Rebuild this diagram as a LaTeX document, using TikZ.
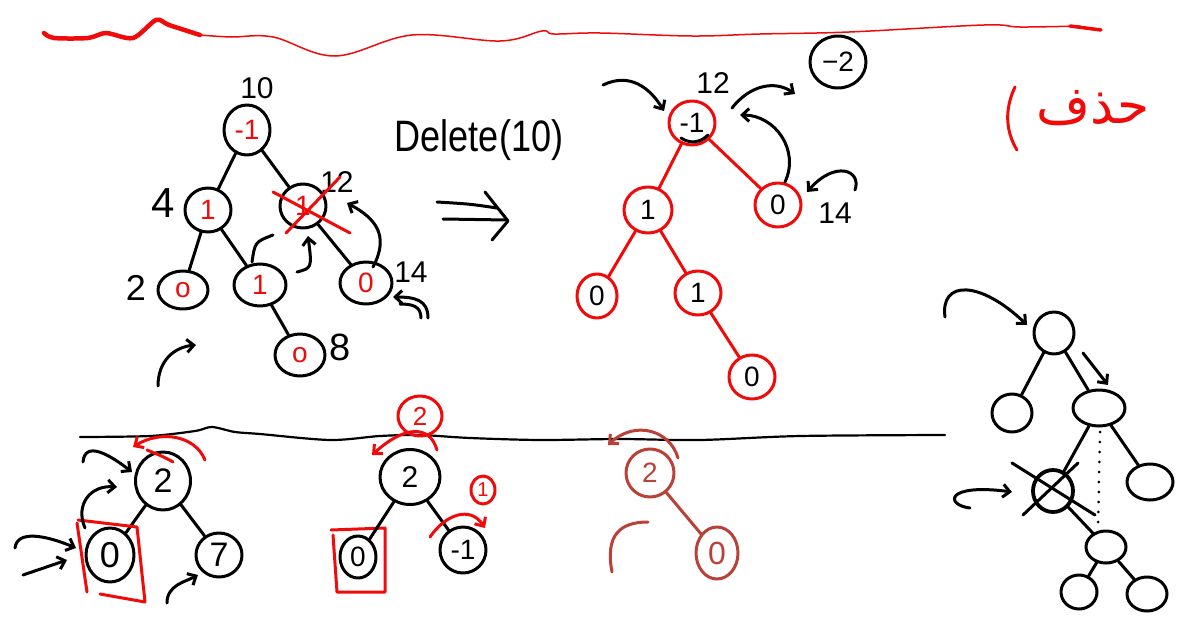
\documentclass[tikz,border=0pt]{standalone}
\usepackage{fontspec}
\setmainfont{Liberation Sans}
\newfontfamily\arabicfont[Script=Arabic]{DejaVu Sans}
\TeXXeTstate=1
\usetikzlibrary{shapes.geometric,arrows.meta}
\definecolor{rd}{RGB}{240,10,10}
\definecolor{brn}{RGB}{185,65,55}
\begin{document}
\begin{tikzpicture}[x=1pt,y=-1pt,line cap=round,line join=round,line width=3pt,
  nd/.style={draw,ellipse,inner sep=0pt,minimum width=46pt,minimum height=44pt,font=\fontsize{28}{28}\selectfont},
  rn/.style={nd,draw=rd},
  en/.style={draw,ellipse,inner sep=0pt,minimum width=40pt,minimum height=42pt},
  lbl/.style={inner sep=0pt,font=\fontsize{30}{30}\selectfont},
  arr/.style={-{Straight Barb[length=7pt,width=13pt]}},
  rc/.style={draw=rd,text=rd,ellipse,inner sep=0pt}]
\fill[white] (0,0) rectangle (1189,629);
\useasboundingbox (0,0) rectangle (1189,629);

% top red wave
\draw[rd,line width=4.5pt] plot[smooth] coordinates {(44,33)(54,38)(88,38)(106,33)(133,38)(156,20)(169,25)(200,35)};
\draw[rd,line width=1.5pt] plot[smooth,tension=0.6] coordinates {(200,35)(231,37)(273,37)(335,56)(412,35)(500,41)(542,31)(554,34)(600,33)(692,36)(760,34)(849,32)(984,25)(1020,27)(1080,26)};
\draw[rd,line width=3.5pt] (1070,26)--(1101,30);

% ---- top-left tree
\node[nd,text=rd,minimum height=50pt] (tA) at (247,130) {-1};
\node[lbl] (tA10) at (257,88) {10};
\node[nd,text=rd] (tB) at (208,210) {1};
\node[lbl,font=\fontsize{42}{42}\selectfont] (tB4) at (163,203) {4};
\node[nd,text=rd] (tC) at (303,206) {1};
\node[lbl] (tC12) at (337,182) {12};
\node[nd,text=rd,minimum width=50pt,minimum height=38pt] (tD) at (183,290) {o};
\node[lbl,font=\fontsize{36}{36}\selectfont] (tD2) at (136,288) {2};
\node[nd,text=rd,minimum width=52pt,minimum height=42pt] (tE) at (260,285) {1};
\node[nd,text=rd,minimum width=52pt,minimum height=42pt] (tF) at (366,283) {0};
\node[lbl] (tF14) at (411,272) {14};
\node[nd,text=rd,minimum width=50pt,minimum height=42pt] (tG) at (300,355) {o};
\node[lbl,font=\fontsize{38}{38}\selectfont] (tG8) at (340,347) {8};
\draw (tA)--(tB); \draw (tA)--(tC); \draw (tB)--(tD); \draw (tB)--(tE); \draw (tC)--(tF); \draw (tE)--(tG);
\draw[rd] (273,192)--(350,233); \draw[rd] (286,233)--(340,177);
\draw (273,235) .. controls (255,242) .. (252,262);
\draw[arr] (297,272) .. controls (312,268) .. (308,236);
\draw[arr] (373,267) .. controls (390,235) and (375,218) .. (347,203);
\draw[arr] (428,318) .. controls (428,300) and (415,297) .. (393,297);
\draw (421,318) .. controls (421,306) and (412,304) .. (400,304);
\draw[arr] (158,386) .. controls (158,360) and (175,347) .. (196,345);

% Delete(10) and implication arrow
\node[inner sep=0pt,font=\fontsize{44}{44}\selectfont,xscale=0.82] (del) at (479,140) {Delete(10)};
\draw (437,202) .. controls (470,204) .. (497,208);
\draw (443,219)--(507,220);
\draw (485,192)--(508,221)--(492,240);

% ---- top-right tree
\node[rn] (uA) at (692,123) {-1};
\node[lbl] (u12) at (713,83) {12};
\node[rn,minimum width=48pt,minimum height=46pt] (uB) at (648,210) {1};
\node[rn] (uC) at (778,205) {0};
\node[lbl] (u14) at (835,213) {14};
\node[rn,minimum width=40pt,minimum height=44pt] (uD) at (597,296) {0};
\node[rn] (uE) at (698,293) {1};
\node[rn] (uF) at (752,377) {0};
\draw[rd] (uA)--(uB); \draw[rd] (uA)--(uC); \draw[rd] (uB)--(uD); \draw[rd] (uB)--(uE); \draw[rd] (uE)--(uF);
\draw (681,138) .. controls (690,144) and (700,143) .. (708,135);
\draw[arr] (603,85) .. controls (630,72) and (650,88) .. (664,111);
\draw[arr] (785,182) .. controls (800,150) and (775,115) .. (740,115);
\draw[arr] (732,108) .. controls (750,85) and (775,80) .. (795,94);
\draw[arr] (855,190) .. controls (862,170) and (835,160) .. (807,192);
\node[draw,ellipse,minimum width=56pt,minimum height=52pt,inner sep=0pt,font=\fontsize{28}{28}\selectfont] (um2) at (838,62) {−2};

% Arabic word
\node[text=rd,inner sep=0pt,font=\arabicfont\fontsize{52}{52}\selectfont] (ar) at (1093,108) {\beginR حذف\endR};
\draw[rd] (1015,87) .. controls (1004,110) and (1006,132) .. (1017,150);

% divider
\draw[line width=2.2pt] plot[smooth] coordinates {(80,437)(150,436)(195,431)(212,427)(235,432)(260,434)(330,440)(380,436)(420,435)(470,438)(540,440)(620,439)(700,440)(800,436)(945,435)};

% ---- bottom-left
\node[nd,minimum width=55pt,minimum height=58pt,font=\fontsize{34}{34}\selectfont] (pA) at (163,481) {2};
\node[nd,minimum width=48pt,minimum height=54pt,font=\fontsize{36}{36}\selectfont] (pB) at (110,555) {0};
\node[nd,minimum width=46pt,minimum height=44pt,font=\fontsize{34}{34}\selectfont] (pC) at (219,555) {7};
\draw (pA)--(pB); \draw (pA)--(pC);
\draw[rd] (78,520) -- (137,527) -- (145,602) -- (100,594);
\draw[rd] (77,523) -- (87,592);
\draw[rd,arr] (205,460) .. controls (195,435) and (160,430) .. (133,447);
\draw[rd] (147,450) .. controls (160,455) and (170,460) .. (173,462);
\draw[arr] (83,462) .. controls (85,440) and (110,455) .. (132,472);
\draw[arr] (85,528) .. controls (75,505) and (90,485) .. (117,487);
\draw[arr] (15,548) .. controls (17,530) and (45,535) .. (76,548);
\draw[arr] (23,575) -- (67,560);
\draw[arr] (167,603) .. controls (167,585) and (185,582) .. (198,575);

% ---- bottom-middle
\node[nd,minimum width=60pt,minimum height=55pt,font=\fontsize{30}{30}\selectfont] (qA) at (410,477) {2};
\node[rc,minimum width=44pt,minimum height=40pt,font=\fontsize{26}{26}\selectfont] (qR2) at (420,416) {2};
\draw[rd,arr] (437,450) .. controls (430,425) and (405,425) .. (372,455);
\node[nd,minimum width=36pt,minimum height=42pt] (qB) at (358,557) {0};
\draw[rd] (331,530)--(385,528)--(385,592)--(337,592)--(333,535);
\node[nd,minimum width=46pt,minimum height=46pt] (qC) at (463,550) {-1};
\draw (qA)--(qB); \draw (qA)--(qC);
\node[rc,minimum width=24pt,minimum height=28pt,font=\fontsize{20}{20}\selectfont] (qR1) at (483,490) {1};
\draw[rd,arr] (430,537) .. controls (445,515) and (470,505) .. (485,528);

% ---- bottom-right (brown)
\node[nd,draw=brn,text=brn,minimum width=48pt,minimum height=48pt] (sA) at (650,473) {2};
\draw[brn,arr] (678,458) .. controls (670,430) and (635,420) .. (608,445);
\node[nd,draw=brn,text=brn,minimum width=42pt,minimum height=52pt,font=\fontsize{32}{32}\selectfont] (sB) at (717,553) {0};
\draw[brn] (sA)--(sB);
\draw[brn] (648,522) .. controls (620,522) and (605,535) .. (612,572);

% ---- far right tree
\node[en] (vA) at (1054,333) {};
\node[en,minimum height=38pt] (vB) at (1012,413) {};
\node[en,minimum width=52pt,minimum height=36pt] (vC) at (1099,408) {};
\node[en,line width=3.8pt] (vD) at (1053,491) {};
\node[en,minimum width=46pt,minimum height=36pt] (vE) at (1150,482) {};
\node[en,minimum height=32pt] (vF) at (1106,547) {};
\node[en,minimum width=36pt,minimum height=34pt] (vG) at (1079,592) {};
\node[en,minimum width=40pt,minimum height=34pt] (vH) at (1147,594) {};
\draw (vA)--(vB); \draw (vA)--(vC); \draw (vC)--(vD); \draw (vC)--(vE);
\draw (vD)--(vF); \draw (vF)--(vG); \draw (vF)--(vH);
\draw[line width=3pt,dash pattern=on 0pt off 10pt] (1100,432)--(1098,528);
\draw (1012,463)--(1095,515); \draw (1023,515)--(1078,463);
\draw[arr] (945,317) .. controls (940,280) and (980,280) .. (1027,325);
\draw[arr] (1083,353) -- (1108,385);
\draw[arr] (970,508) .. controls (945,505) and (945,483) .. (1012,492);
\end{tikzpicture}
\end{document}
